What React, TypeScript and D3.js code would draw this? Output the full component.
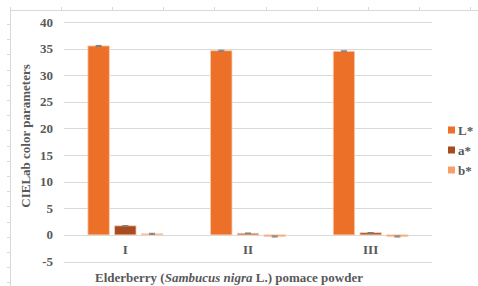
import React, { useEffect, useRef } from 'react';
import * as d3 from 'd3';

const categories = ['I', 'II', 'III'];
const series = ['L*', 'a*', 'b*'];
const colors = ['#EC7027', '#A84B1F', '#F5A068'];
const lValues = [35.5, 34.6, 34.5];
const aValues = [1.7, 0.3, 0.4];
const bValues = [0.2, -0.3, -0.3];
const lErrors = [0.1, 0.1, 0.1];
const aErrors = [0.05, 0.05, 0.05];
const bErrors = [0.1, 0.1, 0.1];
const yTicks = [-5, 0, 5, 10, 15, 20, 25, 30, 35, 40];

const svgWidth = 478;
const svgHeight = 286;
const font = '"Liberation Serif", "Times New Roman", serif';
const textColor = '#595959';

const App: React.FC = () => {
  const svgRef = useRef<SVGSVGElement | null>(null);

  useEffect(() => {
    const svg = d3.select(svgRef.current);
    svg.selectAll('*').remove();

    const margin = { left: 64, right: 46, top: 22, bottom: 24 };
    const values = [lValues, aValues, bValues];
    const errors = [lErrors, aErrors, bErrors];

    // page frame (ruler-like lines)
    const frame = svg.append('g').attr('stroke', '#d9d9d9').attr('stroke-width', 1);
    frame.append('line').attr('x1', 10).attr('x2', svgWidth).attr('y1', 10.5).attr('y2', 10.5);
    frame.append('line').attr('x1', 10.5).attr('x2', 10.5).attr('y1', 10).attr('y2', svgHeight);
    d3.range(10, svgWidth, 51.1).forEach((x) => {
      frame.append('line').attr('x1', Math.round(x) + 0.5).attr('x2', Math.round(x) + 0.5).attr('y1', 7).attr('y2', 11);
    });
    d3.range(24, svgHeight, 15.2).forEach((y) => {
      frame.append('line').attr('x1', 7).attr('x2', 11).attr('y1', Math.round(y) + 0.5).attr('y2', Math.round(y) + 0.5);
    });

    const y = d3.scaleLinear().domain([-5, 40]).range([svgHeight - margin.bottom - 0.5, margin.top]);
    const x0 = d3
      .scaleBand<string>()
      .domain(categories)
      .range([margin.left, svgWidth - margin.right])
      .paddingInner(0.39)
      .paddingOuter(0.195);
    const x1 = d3.scaleBand<string>().domain(series).range([0, x0.bandwidth()]).paddingInner(0.2);

    // gridlines
    svg
      .append('g')
      .selectAll('line')
      .data(yTicks)
      .join('line')
      .attr('x1', margin.left)
      .attr('x2', svgWidth - margin.right)
      .attr('y1', (d) => Math.round(y(d)) + 0.5)
      .attr('y2', (d) => Math.round(y(d)) + 0.5)
      .attr('stroke', '#d9d9d9')
      .attr('stroke-width', 1);

    // y tick labels
    svg
      .append('g')
      .selectAll('text')
      .data(yTicks)
      .join('text')
      .attr('x', 53)
      .attr('y', (d) => y(d))
      .attr('dy', '0.35em')
      .attr('text-anchor', 'end')
      .attr('font-family', font)
      .attr('font-weight', 'bold')
      .attr('font-size', 13)
      .attr('fill', textColor)
      .text((d) => d);

    // bars
    const groups = svg
      .append('g')
      .selectAll('g')
      .data(categories)
      .join('g')
      .attr('transform', (d) => `translate(${x0(d)},0)`);

    series.forEach((s, si) => {
      groups
        .append('rect')
        .attr('x', x1(s)!)
        .attr('width', x1.bandwidth())
        .attr('y', (_, ci) => y(Math.max(0, values[si][ci])))
        .attr('height', (_, ci) => Math.abs(y(values[si][ci]) - y(0)))
        .attr('fill', colors[si])
        .attr('stroke', '#F8CBAD')
        .attr('stroke-width', 0.8);

      // error bars
      const cx = x1(s)! + x1.bandwidth() / 2;
      groups.each(function (_, ci) {
        const g = d3.select(this);
        const v = values[si][ci];
        const e = errors[si][ci];
        const eg = g.append('g').attr('stroke', '#7f7f7f').attr('stroke-width', 1);
        eg.append('line').attr('x1', cx).attr('x2', cx).attr('y1', y(v - e)).attr('y2', y(v + e));
        eg.append('line').attr('x1', cx - 3).attr('x2', cx + 3).attr('y1', y(v + e)).attr('y2', y(v + e));
        eg.append('line').attr('x1', cx - 3).attr('x2', cx + 3).attr('y1', y(v - e)).attr('y2', y(v - e));
      });
    });

    // x category labels
    svg
      .append('g')
      .selectAll('text')
      .data(categories)
      .join('text')
      .attr('x', (d) => x0(d)! + x0.bandwidth() / 2)
      .attr('y', 249)
      .attr('dy', '0.35em')
      .attr('text-anchor', 'middle')
      .attr('font-family', font)
      .attr('font-weight', 'bold')
      .attr('font-size', 13)
      .attr('fill', textColor)
      .text((d) => d);

    // x axis title
    const xt = svg
      .append('text')
      .attr('x', 229)
      .attr('y', 277)
      .attr('dy', '0.35em')
      .attr('text-anchor', 'middle')
      .attr('font-family', font)
      .attr('font-weight', 'bold')
      .attr('font-size', 13)
      .attr('fill', textColor);
    xt.append('tspan').text('Elderberry (');
    xt.append('tspan').attr('font-style', 'italic').text('Sambucus nigra');
    xt.append('tspan').text(' L.) pomace powder');

    // y axis title
    svg
      .append('text')
      .attr('transform', 'translate(25,136) rotate(-90)')
      .attr('dy', '0.35em')
      .attr('text-anchor', 'middle')
      .attr('font-family', font)
      .attr('font-weight', 'bold')
      .attr('font-size', 13)
      .attr('fill', textColor)
      .text('CIELab color parameters');

    // legend
    const legend = svg
      .append('g')
      .selectAll('g')
      .data(series)
      .join('g')
      .attr('transform', (_, i) => `translate(448,${130 + i * 20})`);
    legend
      .append('rect')
      .attr('x', 0)
      .attr('y', -3.5)
      .attr('width', 7)
      .attr('height', 7)
      .attr('fill', (_, i) => colors[i]);
    legend
      .append('text')
      .attr('x', 10)
      .attr('y', 0)
      .attr('dy', '0.35em')
      .attr('font-family', font)
      .attr('font-weight', 'bold')
      .attr('font-size', 13)
      .attr('fill', textColor)
      .text((d) => d);
  }, []);

  return <svg width={svgWidth} height={svgHeight} ref={svgRef} style={{ display: 'block', position: 'absolute', left: 0, top: 0 }}></svg>;
};

export default App;
